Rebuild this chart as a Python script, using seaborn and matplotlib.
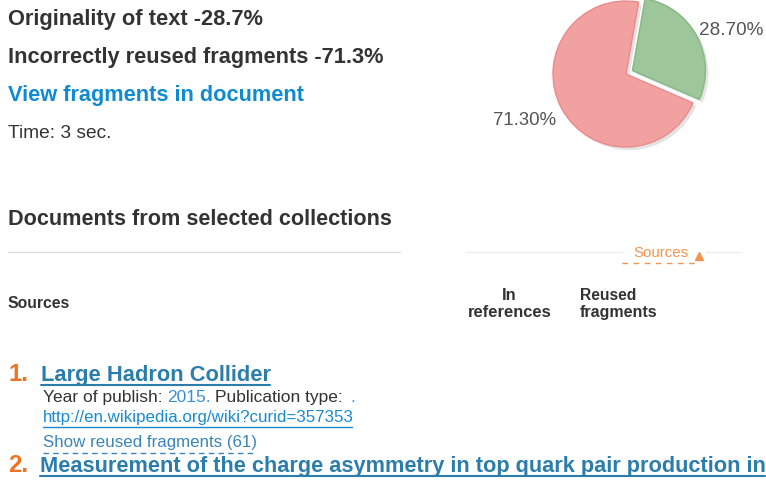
import matplotlib
matplotlib.use('Agg')
import matplotlib.pyplot as plt
import seaborn as sns
from matplotlib.lines import Line2D

# ---------------- data ----------------
pie_labels = ['Originality of text', 'Incorrectly reused fragments']
pie_values = [28.7, 71.3]
pie_colors = ['#9dc69a', '#f2a1a1']
pie_edges = ['#86b883', '#ea8a8a']
elapsed_sec = 3
sources = ['Large Hadron Collider',
           'Measurement of the charge asymmetry in top quark pair production in']
source_years = ['2015']
source_urls = ['http://en.wikipedia.org/wiki?curid=357353']
reused_counts = [61]

# ---------------- setup ----------------
sns.set_theme(style='white')
plt.rcParams['font.family'] = ['Liberation Sans', 'DejaVu Sans']

W, H = 766, 480
fig = plt.figure(figsize=(W / 100, H / 100), dpi=100)
fig.patch.set_facecolor('white')
renderer = fig.canvas.get_renderer()


def fx(x):
    return x / W


def fy(y):
    return 1 - y / H


def put(s, x, y, width=None, size=12, ha='left', **kw):
    t = fig.text(fx(x), fy(y), s, ha=ha, va='baseline', fontsize=size, **kw)
    if width:
        bb = t.get_window_extent(renderer=renderer)
        t.set_fontsize(size * width / bb.width)
    return t


def right_px(t):
    return t.get_window_extent(renderer=renderer).x1


def hline(x0, x1, y, color, lw=1.0, ls='-'):
    fig.add_artist(Line2D([fx(x0), fx(x1)], [fy(y), fy(y)],
                          transform=fig.transFigure, color=color, lw=lw, ls=ls))


DARK = '#333333'
ORANGE = '#f07322'
LINK = '#2b7dab'

# ---------------- header text ----------------
put(f'{pie_labels[0]} -{pie_values[0]}%', 8, 25, width=254, fontweight='bold', color=DARK)
put(f'{pie_labels[1]} -{pie_values[1]}%', 8, 63, width=373, fontweight='bold', color=DARK)
put('View fragments in document', 8, 101, width=295, fontweight='bold', color='#0f8bd0')
put(f'Time: {elapsed_sec} sec.', 8, 138, width=103, color=DARK)

# ---------------- pie ----------------
cx, cy, r = 626, 74, 73
half = 100
ax = fig.add_axes([fx(cx - half), fy(cy + half), 2 * half / W, 2 * half / H])
wedges, _ = ax.pie(pie_values, colors=pie_colors, startangle=80, counterclock=False,
                   explode=[0.1, 0], wedgeprops=dict(linewidth=1),
                   shadow={'ox': 0.03, 'oy': -0.03, 'facecolor': '#c8c8c8',
                           'edgecolor': 'none', 'alpha': 0.5})
for w, ec in zip(wedges, pie_edges):
    w.set_edgecolor(ec)
lim = half / r
ax.set_xlim(-lim, lim)
ax.set_ylim(-lim, lim)
ax.axis('off')

put(f'{pie_values[0]:.2f}%', 699, 35, width=64, color='#555555')
put(f'{pie_values[1]:.2f}%', 493, 125, width=63, color='#555555')

# ---------------- documents section ----------------
put('Documents from selected collections', 8, 225, width=382, fontweight='bold', color=DARK)
hline(8, 400, 252, '#dddddd')
hline(466, 622, 252, '#eeeeee')
hline(706, 740, 252, '#eeeeee')
put('Sources', 633, 257, width=55, color='#f39550')
fig.add_artist(Line2D([fx(698.5)], [fy(256)], transform=fig.transFigure, marker='^',
                      markersize=6, color='#f39550', ls='none'))
hline(622, 700, 263, '#f39550', lw=1, ls=(0, (4, 4)))

put('Sources', 8, 308, width=62, fontweight='bold', color=DARK)
t_ref = put('references', 468, 317, width=83, fontweight='bold', color=DARK)
put('In', 509.5, 300, size=t_ref.get_fontsize(), ha='center', fontweight='bold', color=DARK)
put('Reused', 580, 300, width=56, fontweight='bold', color=DARK)
put('fragments', 580, 317, width=77, fontweight='bold', color=DARK)

# ---------------- source 1 ----------------
t_num = put('2.', 8, 472, width=20, fontweight='bold', color=ORANGE)
put('1.', 8, 381, size=t_num.get_fontsize(), fontweight='bold', color=ORANGE)
put(sources[0], 41, 381, width=229, fontweight='bold', color=LINK)
hline(41, 270, 384.5, LINK, lw=1.5)

t_year = put('Year of publish:', 43, 402, width=119, color=DARK)
fs = t_year.get_fontsize()
t2 = put(f'{source_years[0]}.', 167, 402, size=fs, color='#3b8fd0')
t3 = put('Publication type:', right_px(t2) + 4, 402, size=fs, color=DARK)
put('.', right_px(t3) + 8, 402, size=fs, color='#3b8fd0')

put(source_urls[0], 43, 422, width=309, color='#1a8ad0')
hline(43, 352, 427, '#1a8ad0', lw=1)

put(f'Show reused fragments ({reused_counts[0]})', 43, 447, width=214, color='#3a85b8')
hline(43, 257, 453, '#3a85b8', lw=1, ls=(0, (4, 3)))

# ---------------- source 2 ----------------
put(sources[1], 40, 472, width=723, fontweight='bold', color=LINK)
hline(40, 765, 476, LINK, lw=1.5)

fig.savefig('out.png', dpi=100, facecolor='white')
